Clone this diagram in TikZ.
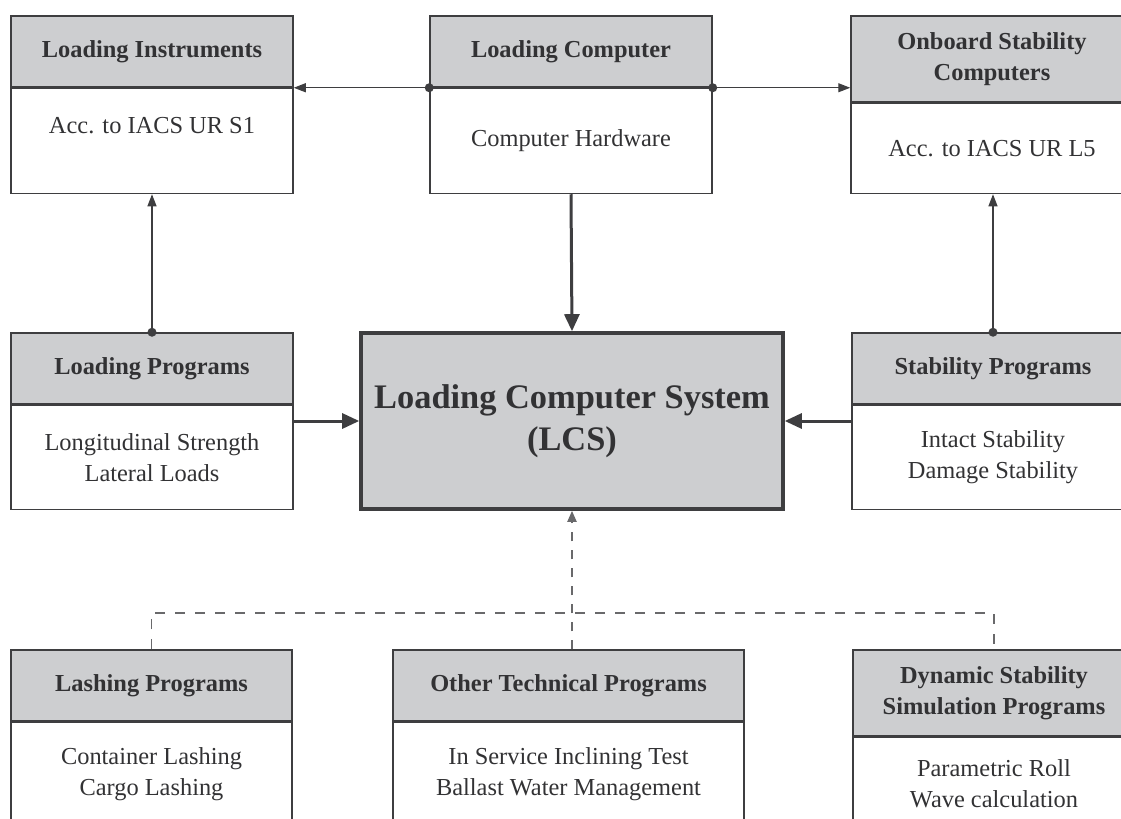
\documentclass[tikz,border=0pt]{standalone}
\usepackage{fontspec}
\setmainfont{Liberation Serif}
\usetikzlibrary{arrows.meta}
\definecolor{boxgray}{RGB}{205,206,208}
\definecolor{linec}{RGB}{62,62,64}
\definecolor{txt}{RGB}{50,50,52}
\definecolor{dashc}{RGB}{105,105,107}
\begin{document}
\begin{tikzpicture}[x=0.5pt,y=-0.5pt,
  every node/.style={inner sep=0pt,align=center,text=txt,draw=linec,line width=0.75pt,
    font=\fontsize{12.2}{15.6}\selectfont},
  head/.style={fill=boxgray,minimum width=141pt,minimum height=35.5pt,
    font=\fontsize{12.2}{15.6}\selectfont\bfseries},
  body/.style={fill=white,minimum width=141pt,minimum height=52.5pt,anchor=north},
  lcsbox/.style={fill=boxgray,line width=1.8pt,minimum width=211pt,minimum height=88pt,
    font=\fontsize{17.2}{21}\selectfont\bfseries},
  joint/.style={circle,fill=linec,draw=none,minimum size=4.5pt},
  link/.style={draw=linec,line width=0.6pt,-{Triangle[length=6pt,width=4.5pt]}},
  feed/.style={draw=linec,line width=1.5pt,-{Triangle[length=8.5pt,width=7.5pt]}},
  optlink/.style={draw=dashc,line width=1pt,dash pattern=on 4.5pt off 4.5pt,
    -{Triangle[length=5.5pt,width=4.5pt]}},
  optbus/.style={draw=dashc,line width=0.6pt,dash pattern=on 5pt off 5pt}]
\useasboundingbox (0,0) rectangle (1121,819);
\clip (0,0) rectangle (1121,819);
\node[head] (instr) at (152,51.5) {Loading Instruments};
\node[body] (instrb) at (instr.south) {Acc. to IACS UR S1\\ \mbox{}};
\node[head] (comp) at (571,51.5) {Loading Computer};
\node[body] (compb) at (comp.south) {Computer Hardware};
\node[head,minimum height=43pt] (onb) at (992,59) {Onboard Stability\\Computers};
\node[body,minimum height=45pt] (onbb) at (onb.south) {Acc. to IACS UR L5};
\node[head] (lprog) at (152,368.5) {Loading Programs};
\node[body,minimum height=52pt] (lprogb) at (lprog.south) {Longitudinal Strength\\Lateral Loads};
\node[lcsbox] (lcs) at (572,421) {Loading Computer System\\(LCS)};
\node[head] (sprog) at (993,368.5) {Stability Programs};
\node[body,minimum height=52pt] (sprogb) at (sprog.south) {Intact Stability\\Damage Stability};
\node[head,minimum width=140.5pt] (lash) at (151.5,685.5) {Lashing Programs};
\node[body,minimum width=140.5pt,minimum height=52pt] (lashb) at (lash.south) {Container Lashing\\Cargo Lashing};
\node[head,minimum width=175.5pt] (other) at (568.5,685.5) {Other Technical Programs};
\node[body,minimum width=175.5pt,minimum height=52pt] (otherb) at (other.south) {In Service Inclining Test\\Ballast Water Management};
\node[head,minimum height=43pt] (dyn) at (994,693) {Dynamic Stability\\Simulation Programs};
\node[body,minimum height=46.5pt] (dynb) at (dyn.south) {Parametric Roll\\Wave calculation};
\coordinate (bus) at (571,613);
\draw[link] (comp.south west) -- (instr.south east);
\draw[link] (comp.south east) -- (comp.south east -| onb.west);
\draw[link] (lprog.north) -- (instrb.south);
\draw[link] (sprog.north) -- (sprog.north |- onbb.south);
\draw[feed] (compb.south) -- (lcs.north);
\draw[feed] (lcs.west -| lprogb.east) -- (lcs.west);
\draw[feed] (lcs.east -| sprogb.west) -- (lcs.east);
\draw[optbus] (lash.north) |- (bus) -| (dyn.north);
\draw[optlink] (lcs.south |- other.north) -- (lcs.south);
\node[joint] at (comp.south west) {};
\node[joint] at (comp.south east) {};
\node[joint] at (lprog.north) {};
\node[joint] at (sprog.north) {};
\end{tikzpicture}
\end{document}
